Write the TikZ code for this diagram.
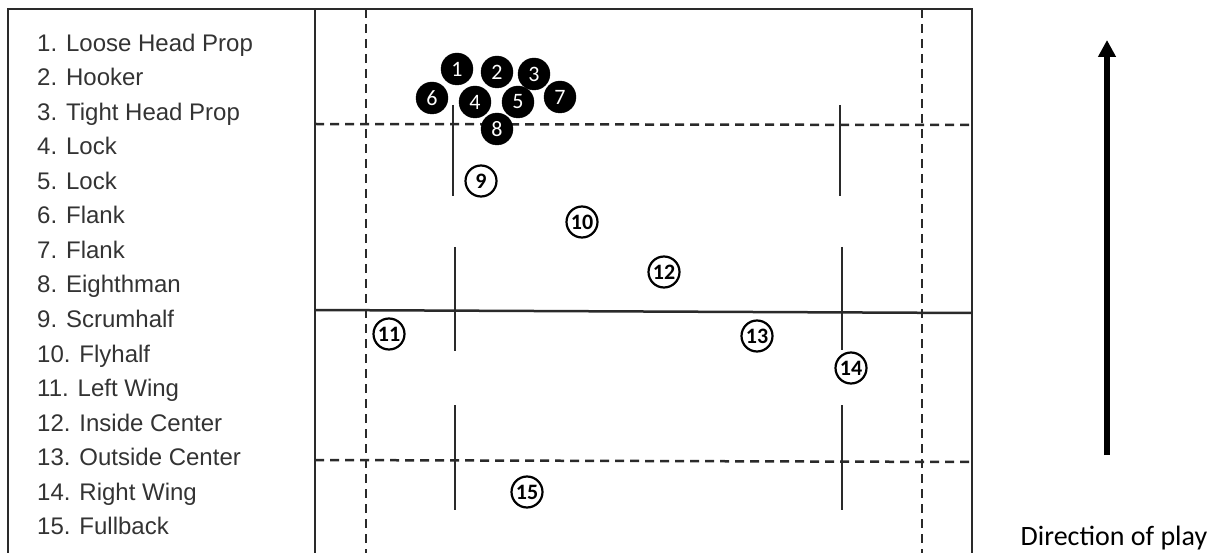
\documentclass[tikz,border=0pt]{standalone}
\usepackage{fontspec}
\setmainfont{Liberation Sans}
\newfontfamily\calib{Carlito}
\usetikzlibrary{arrows.meta}
\definecolor{lc}{HTML}{2A2A2A}
\definecolor{tc}{HTML}{333333}
\begin{document}
\begin{tikzpicture}[x=1pt,y=-1pt,
  fieldline/.style={draw=lc, line width=2.5pt},
  dashline/.style={draw=lc, line width=2.5pt, dash pattern=on 9pt off 6pt},
  markline/.style={draw=lc, line width=2.3pt},
  fwd/.style={circle, fill=black, draw=black, minimum size=32pt, inner sep=0pt, text=white, font=\calib\fontsize{22}{22}\selectfont},
  back/.style={circle, draw=black, line width=2.2pt, fill=white, minimum size=31pt, inner sep=0pt, font=\calib\fontsize{22}{22}\selectfont\bfseries},
  item/.style={anchor=base west, text=tc, font=\fontsize{24}{24}\selectfont, inner sep=0pt}
]
\useasboundingbox (0,0) rectangle (1231,553);
% left box
\draw[fieldline] (8,553) -- (8,9) -- (315,9) -- (315,553);
% field
\draw[fieldline] (315,9) -- (972,9) -- (972,553);
\draw[fieldline] (315,310) -- (972,313);
% dashed lines
\draw[dashline] (366,9) -- (366,553);
\draw[dashline] (922,9) -- (922,553);
\draw[dashline] (315,124) -- (972,125);
\draw[dashline] (315,460) -- (972,462);
% short solid lines
\draw[markline] (453,105) -- (453,196);
\draw[markline] (840,105) -- (840,196);
\draw[markline] (455,247) -- (455,351);
\draw[markline] (842,247) -- (842,350);
\draw[markline] (455,405) -- (455,510);
\draw[markline] (842,405) -- (842,510);
% forwards
\node[fwd] (p1) at (457,69) {1};
\node[fwd] (p2) at (497,72) {2};
\node[fwd] (p3) at (534,74) {3};
\node[fwd] (p6) at (432,98) {6};
\node[fwd] (p4) at (475,102) {4};
\node[fwd] (p5) at (518,102) {5};
\node[fwd] (p7) at (560,97) {7};
\node[fwd] (p8) at (497,129) {8};
% backs
\node[back] (p9) at (481,181) {9};
\node[back] (p10) at (582,222) {10};
\node[back] (p12) at (664,272) {12};
\node[back] (p11) at (389,334) {11};
\node[back] (p13) at (757,336) {13};
\node[back] (p14) at (851,368) {14};
\node[back] (p15) at (527,492) {15};
% legend
\foreach \t [count=\i] in {Loose Head Prop,Hooker,Tight Head Prop,Lock,Lock,Flank,Flank,Eighthman,Scrumhalf,Flyhalf,Left Wing,Inside Center,Outside Center,Right Wing,Fullback}
  \node[item] (l\i) at (37,{51.5+(\i-1)*34.5}) {\i. \t};
% direction of play
\coordinate (a0) at (1107,455);
\coordinate (a1) at (1107,40);
\draw[line width=5.5pt, -{Triangle[length=17pt,width=17pt]}] (a0) -- (a1);
\node[anchor=base, font=\calib\fontsize{28}{28}\selectfont, inner sep=0pt] (dir) at (1114,545) {Direction of play};
\end{tikzpicture}
\end{document}
